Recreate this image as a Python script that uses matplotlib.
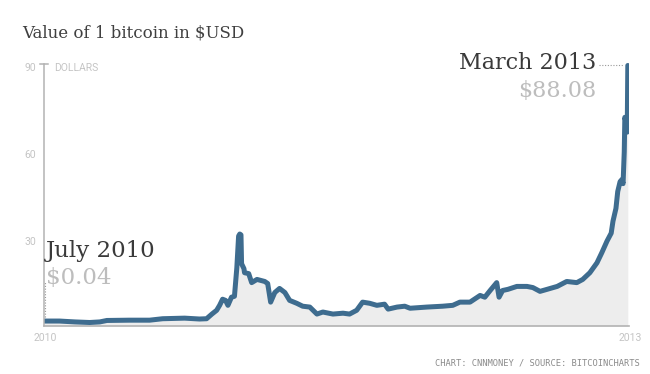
import pandas as pd
import matplotlib
matplotlib.use("Agg")
import matplotlib.pyplot as plt
import matplotlib.transforms as mtransforms
from matplotlib import font_manager

# bitcoin price
dates = ["2010-07-17", "2010-08-11", "2010-09-06", "2010-10-01", "2010-10-18", "2010-10-30", "2010-12-07", "2011-01-10", "2011-02-01", "2011-03-10",
         "2011-04-04", "2011-04-16", "2011-04-25", "2011-05-03", "2011-05-08", "2011-05-13", "2011-05-18", "2011-05-22", "2011-05-28", "2011-06-02",
         "2011-06-06", "2011-06-09", "2011-06-11", "2011-06-13", "2011-06-14", "2011-06-18", "2011-06-19", "2011-06-26", "2011-07-01", "2011-07-10",
         "2011-07-23", "2011-07-28", "2011-08-02", "2011-08-09", "2011-08-17", "2011-08-26", "2011-09-03", "2011-09-15", "2011-09-25", "2011-10-07",
         "2011-10-19", "2011-10-29", "2011-11-15", "2011-12-02", "2011-12-13", "2011-12-25", "2012-01-04", "2012-01-16", "2012-01-28", "2012-02-10",
         "2012-02-16", "2012-03-02", "2012-03-15", "2012-03-24", "2012-04-21", "2012-05-18", "2012-06-04", "2012-06-16", "2012-07-03", "2012-07-20",
         "2012-07-28", "2012-08-06", "2012-08-17", "2012-08-21", "2012-08-27", "2012-09-05", "2012-09-20", "2012-10-07", "2012-10-17", "2012-10-29",
         "2012-11-10", "2012-11-27", "2012-12-13", "2012-12-30", "2013-01-09", "2013-01-21", "2013-02-02", "2013-02-10", "2013-02-19", "2013-02-26",
         "2013-03-01", "2013-03-06", "2013-03-09", "2013-03-13", "2013-03-16", "2013-03-18", "2013-03-20", "2013-03-21", "2013-03-23", "2013-03-25",
         "2013-03-26"]
values = [1.7, 1.7, 1.4, 1.2, 1.4, 1.9, 2.0, 2.0, 2.5, 2.7,
          2.4, 2.5, 4.1, 5.4, 7.1, 9.2, 8.8, 7.1, 9.9, 10.2,
          20.0, 30.9, 31.6, 31.3, 21.4, 19.7, 18.3, 18.0, 14.9, 16.0,
          15.3, 14.6, 8.2, 11.5, 12.9, 11.5, 8.8, 7.8, 6.8, 6.5,
          4.1, 4.8, 4.1, 4.4, 4.1, 5.4, 8.2, 7.8, 7.1, 7.5,
          5.8, 6.5, 6.8, 6.1, 6.5, 6.8, 7.1, 8.2, 8.2, 10.5,
          9.9, 12.2, 14.9, 9.9, 12.2, 12.6, 13.6, 13.6, 13.2, 11.9,
          12.6, 13.6, 15.3, 14.9, 16.0, 18.3, 21.7, 25.1, 29.2, 31.9,
          36.0, 40.4, 46.2, 49.6, 50.3, 48.9, 59.8, 71.7, 70.0, 66.6,
          89.5]

y_ticks = [30, 60, 90]
y_labels = ["30", "60", "90"]
x_labels = ["2010", "2013"]
start_label = ["July 2010", "$0.04"]
end_label = ["March 2013", "$88.08"]

W, H = 650, 374

def px(x, y):
    # pixel position -> figure fraction
    return x / W, 1 - y / H

names = {f.name for f in font_manager.fontManager.ttflist}
narrow = "Liberation Sans Narrow" if "Liberation Sans Narrow" in names else "Roboto"

line_col = "#3e6c8f"
fill_col = "#ededed"
axis_col = "#b3b3b3"
tick_col = "#c4c4c4"

x = pd.to_datetime(dates)
fig = plt.figure(figsize=(W / 100, H / 100), dpi=100)
ax = fig.add_axes([44 / W, 48 / H, 585 / W, (326 - 58.2) / H])

ax.fill_between(x, values, 0, color=fill_col, lw=0)
ax.plot(x, values, color=line_col, lw=3.6, solid_joinstyle="round", solid_capstyle="round")

x0 = pd.Timestamp("2010-07-16")
x1 = pd.Timestamp("2013-03-28")
ax.set_xlim(x0, x1)
ax.set_ylim(0, 92)

for s in ["top", "right"]:
    ax.spines[s].set_visible(False)
ax.spines["left"].set_bounds(0, 90)
ax.spines["left"].set_color(axis_col)
ax.spines["bottom"].set_color(axis_col)
ax.spines["left"].set_linewidth(1.1)
ax.spines["bottom"].set_linewidth(1.2)
ax.set_xticks([])
ax.set_yticks([])

# y labels, nudged a bit like the original
ytrans = ax.get_yaxis_transform() + mtransforms.ScaledTranslation(-0.08, -0.035, fig.dpi_scale_trans)
for v, lab in zip(y_ticks, y_labels):
    ax.text(0, v, lab, transform=ytrans, ha="right", va="center", fontsize=7.5,
            family=narrow, color=tick_col)
ax.plot([-0.007, 0.007], [90, 90], transform=ax.get_yaxis_transform(), color=axis_col,
        lw=1.1, clip_on=False)
dtrans = ax.get_yaxis_transform() + mtransforms.ScaledTranslation(0.1, -0.035, fig.dpi_scale_trans)
ax.text(0, 90, "DOLLARS", transform=dtrans, ha="left", va="center", fontsize=7.5,
        family=narrow, color=tick_col)

fig.text(*px(45, 341), x_labels[0], ha="center", va="baseline", fontsize=7.5, family=narrow, color=tick_col)
fig.text(*px(630, 341), x_labels[1], ha="center", va="baseline", fontsize=7.5, family=narrow, color=tick_col)

# title and notes
fig.text(*px(22, 37.5), "Value of 1 bitcoin in $USD", ha="left", va="baseline",
         fontsize=12, family="DejaVu Serif", color="#404040")
fig.text(*px(640, 366), "CHART: CNNMONEY / SOURCE: BITCOINCHARTS", ha="right", va="baseline",
         fontsize=6.3, family="DejaVu Sans Mono", color="#8a8a8a")

fig.text(*px(46, 257), start_label[0], ha="left", va="baseline", fontsize=16.5,
         family="DejaVu Serif", color="#3a3a3a")
fig.text(*px(46, 284), start_label[1], ha="left", va="baseline", fontsize=16.5,
         family="DejaVu Serif", color="#bdbdbd")
fig.text(*px(596, 69), end_label[0], ha="right", va="baseline", fontsize=16,
         family="DejaVu Serif", color="#3a3a3a")
fig.text(*px(596, 97), end_label[1], ha="right", va="baseline", fontsize=16,
         family="DejaVu Serif", color="#bdbdbd")

# dotted leaders
ax.plot([x[0], x[0]], [values[0] + 1.5, 15], ls=(0, (1, 1.5)), color="#999999", lw=0.8)
ax.plot([x[-1] - pd.Timedelta(days=48), x[-1] - pd.Timedelta(days=8)], [values[-1], values[-1]],
        ls=(0, (1, 1.5)), color="#999999", lw=0.8)

fig.savefig("out.png", dpi=100)
